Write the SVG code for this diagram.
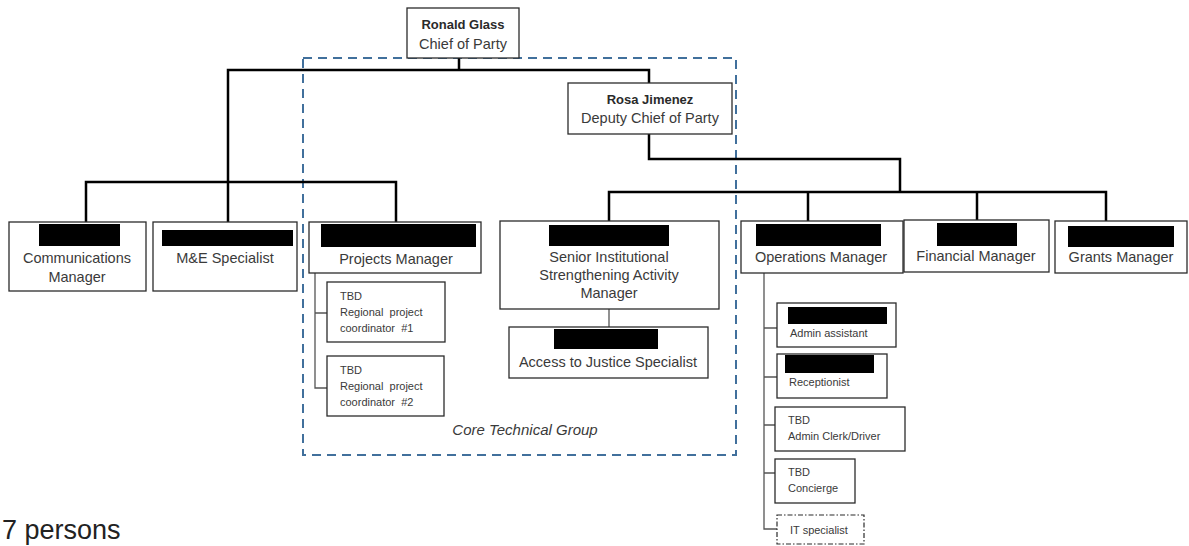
<svg xmlns="http://www.w3.org/2000/svg" width="1189" height="546" viewBox="0 0 1189 546">
<style>
.box{fill:#fff;stroke:#2b2b2b;stroke-width:1.3}
.red{fill:#000}
.t{font-family:"Liberation Sans",Arial,sans-serif;font-size:14.5px;fill:#3a3a3a;text-anchor:middle}
.s{font-family:"Liberation Sans",Arial,sans-serif;font-size:11px;fill:#3a3a3a;white-space:pre}
.b{font-family:"Liberation Sans",Arial,sans-serif;font-size:13px;font-weight:bold;fill:#2a2a2a;text-anchor:middle}
.main{fill:none;stroke:#000;stroke-width:2.5}
.thin{fill:none;stroke:#555;stroke-width:1.3}
</style>
<rect x="0" y="0" width="1189" height="546" fill="#fff"/>
<g id="core-group">
<rect x="303" y="58" width="433" height="397" fill="none" stroke="#41709c" stroke-width="2" stroke-dasharray="9 6"/>
<text x="525" y="435" font-family="Liberation Sans,Arial,sans-serif" font-size="15" font-style="italic" fill="#3a3a3a" text-anchor="middle">Core Technical Group</text>
</g>
<g id="connectors">
<path class="main" d="M459 58V70M228 182V70H649V83"/>
<path class="main" d="M86 222V182H396V222M228 182V222"/>
<path class="main" d="M649 134V159H900V192M609 221V192H1106V221M808 192V221M977 192V220"/>
<path class="thin" d="M315 273V388H327M315 313H327"/>
<path class="thin" d="M609 309V327"/>
<path class="thin" d="M764 273V529H777M764 328H777M764 377H777M764 425H775M764 473H775"/>
</g>
<g id="ronald-glass">
<rect class="box" x="407" y="8" width="112" height="50"/>
<text class="b" x="463" y="29">Ronald Glass</text>
<text class="t" x="463" y="49">Chief of Party</text>
</g>
<g id="rosa-jimenez">
<rect class="box" x="568" y="83" width="164" height="51"/>
<text class="b" x="650" y="104">Rosa Jimenez</text>
<text class="t" x="650" y="123">Deputy Chief of Party</text>
</g>
<g id="communications-manager">
<rect class="box" x="9" y="222" width="137" height="69"/>
<rect class="red" x="39" y="224" width="81" height="22"/>
<text class="t" x="77" y="263">Communications</text>
<text class="t" x="77" y="282">Manager</text>
</g>
<g id="me-specialist">
<rect class="box" x="153" y="222" width="144" height="69"/>
<rect class="red" x="162" y="230" width="131" height="16"/>
<text class="t" x="225" y="263">M&amp;E Specialist</text>
</g>
<g id="projects-manager">
<rect class="box" x="309" y="222" width="172" height="51"/>
<rect class="red" x="321" y="224" width="155" height="23"/>
<text class="t" x="396" y="264">Projects Manager</text>
</g>
<g id="rpc1">
<rect class="box" x="327" y="282" width="118" height="60"/>
<text class="s" x="340" y="300">TBD</text>
<text class="s" x="340" y="316">Regional  project</text>
<text class="s" x="340" y="332">coordinator  #1</text>
</g>
<g id="rpc2">
<rect class="box" x="327" y="356" width="117" height="60"/>
<text class="s" x="340" y="374">TBD</text>
<text class="s" x="340" y="390">Regional  project</text>
<text class="s" x="340" y="406">coordinator  #2</text>
</g>
<g id="senior-isa-manager">
<rect class="box" x="500" y="221" width="219" height="88"/>
<rect class="red" x="549" y="225" width="120" height="21"/>
<text class="t" x="609" y="262">Senior Institutional</text>
<text class="t" x="609" y="280">Strengthening Activity</text>
<text class="t" x="609" y="298">Manager</text>
</g>
<g id="access-justice">
<rect class="box" x="509" y="327" width="199" height="51"/>
<rect class="red" x="554" y="329" width="104" height="20"/>
<text class="t" x="608" y="367">Access to Justice Specialist</text>
</g>
<g id="operations-manager">
<rect class="box" x="741" y="221" width="162" height="52"/>
<rect class="red" x="756" y="224" width="125" height="22"/>
<text class="t" x="821" y="262">Operations Manager</text>
</g>
<g id="financial-manager">
<rect class="box" x="904" y="220" width="145" height="52"/>
<rect class="red" x="937" y="223" width="80" height="23"/>
<text class="t" x="976" y="261">Financial Manager</text>
</g>
<g id="grants-manager">
<rect class="box" x="1055" y="221" width="132" height="52"/>
<rect class="red" x="1068" y="226" width="106" height="21"/>
<text class="t" x="1121" y="262">Grants Manager</text>
</g>
<g id="admin-assistant">
<rect class="box" x="777" y="303" width="119" height="44"/>
<rect class="red" x="788" y="307" width="99" height="17"/>
<text class="s" x="790" y="337">Admin assistant</text>
</g>
<g id="receptionist">
<rect class="box" x="777" y="354" width="110" height="44"/>
<rect class="red" x="785" y="355" width="89" height="18"/>
<text class="s" x="789" y="386">Receptionist</text>
</g>
<g id="admin-clerk">
<rect class="box" x="775" y="407" width="130" height="44"/>
<text class="s" x="788" y="424">TBD</text>
<text class="s" x="788" y="440">Admin Clerk/Driver</text>
</g>
<g id="concierge">
<rect class="box" x="775" y="459" width="80" height="44"/>
<text class="s" x="788" y="476">TBD</text>
<text class="s" x="788" y="492">Concierge</text>
</g>
<g id="it-specialist">
<rect x="777" y="515" width="87" height="29" fill="#fff" stroke="#2b2b2b" stroke-width="1.2" stroke-dasharray="5 2 1.5 2"/>
<text class="s" x="790" y="534">IT specialist</text>
</g>
<text x="2" y="539" font-family="Liberation Sans,Arial,sans-serif" font-size="27" fill="#222">7 persons</text>
</svg>
